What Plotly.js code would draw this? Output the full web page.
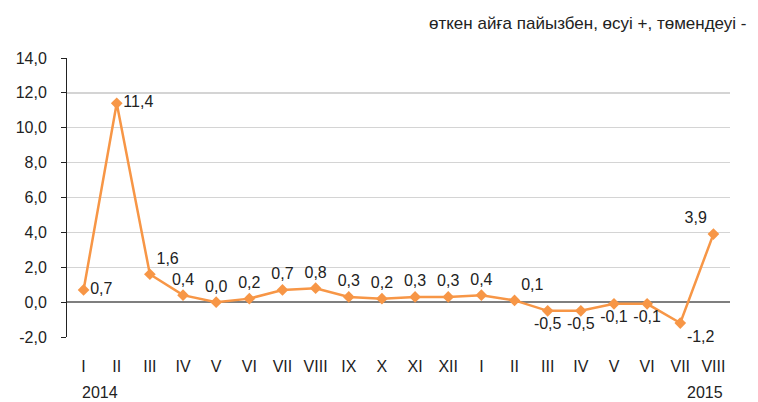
<!DOCTYPE html>
<html>
<head>
<meta charset="utf-8">
<script src="https://cdn.plot.ly/plotly-3.0.1.min.js"></script>
<style>html,body{margin:0;padding:0;background:#fff;}#chart{width:758px;height:402px;}</style>
</head>
<body>
<div id="chart"></div>
<script>
const monthLabels = ["I","II","III","IV","V","VI","VII","VIII","IX","X","XI","XII","I","II","III","IV","V","VI","VII","VIII"];
const values = [0.7, 11.4, 1.6, 0.4, 0.0, 0.2, 0.7, 0.8, 0.3, 0.2, 0.3, 0.3, 0.4, 0.1, -0.5, -0.5, -0.1, -0.1, -1.2, 3.9];
const yTickValues = [-2, 0, 2, 4, 6, 8, 10, 12, 14];
const yTickLabels = ["-2,0", "0,0", "2,0", "4,0", "6,0", "8,0", "10,0", "12,0", "14,0"];
const labelPositions = ["middle right","middle right","top right","top center","top center","top center","top center","top center","top center","top center","top center","top center","top center","top right","bottom center","bottom center","bottom center","bottom center","bottom right","top left"];
const yearLabels = ["2014", "2015"];
const subtitle = "өткен айға пайызбен, өсуі +, төмендеуі -";

const xs = monthLabels.map((_, i) => i);
const fmt = v => v.toFixed(1).replace('.', ',');
const FONT = 'Liberation Sans, Arial, sans-serif';

const trace = {
  x: xs,
  y: values,
  type: 'scatter',
  mode: 'lines+markers+text',
  line: {color: '#f79646', width: 2.5},
  marker: {symbol: 'diamond', size: 9, color: '#f79646'},
  text: values.map(fmt),
  textposition: labelPositions,
  textfont: {family: FONT, size: 16, color: '#222'},
  cliponaxis: false,
  hoverinfo: 'none'
};

const layout = {
  width: 758, height: 402,
  margin: {l: 67, r: 28, t: 58, b: 65},
  paper_bgcolor: '#fff', plot_bgcolor: '#fff',
  showlegend: false,
  font: {family: FONT, size: 16, color: '#222'},
  xaxis: {
    range: [-0.5, 19.5],
    tickmode: 'array', tickvals: xs, ticktext: monthLabels,
    showgrid: false, zeroline: false, showline: false, ticks: '',
    ticklabelstandoff: 18,
    tickfont: {family: FONT, size: 16, color: '#222'},
    fixedrange: true
  },
  yaxis: {
    range: [-2, 14],
    tickmode: 'array', tickvals: yTickValues, ticktext: yTickLabels,
    showgrid: true, gridcolor: '#d4d4d4', gridwidth: 1.3,
    zeroline: true, zerolinecolor: '#7f7f7f', zerolinewidth: 1.3,
    showline: true, linecolor: '#222', linewidth: 1,
    ticks: 'outside', ticklen: 5, tickcolor: '#222',
    ticklabelstandoff: 11,
    tickfont: {family: FONT, size: 16, color: '#222'},
    fixedrange: true
  },
  annotations: [
    {x: 0, y: 0, xref: 'x', yref: 'paper', yshift: -45, xshift: -4, xanchor: 'left', yanchor: 'top', text: yearLabels[0], showarrow: false, font: {family: FONT, size: 16, color: '#222'}},
    {x: 19, y: 0, xref: 'x', yref: 'paper', yshift: -45, xshift: 12, xanchor: 'right', yanchor: 'top', text: yearLabels[1], showarrow: false, font: {family: FONT, size: 16, color: '#222'}},
    {x: 1, y: 1, xref: 'paper', yref: 'paper', xshift: 19, yshift: 35, xanchor: 'right', yanchor: 'middle', text: subtitle, showarrow: false, font: {family: FONT, size: 17, color: '#222'}}
  ]
};

Plotly.newPlot('chart', [trace], layout, {displayModeBar: false, staticPlot: true});
</script>
</body>
</html>
